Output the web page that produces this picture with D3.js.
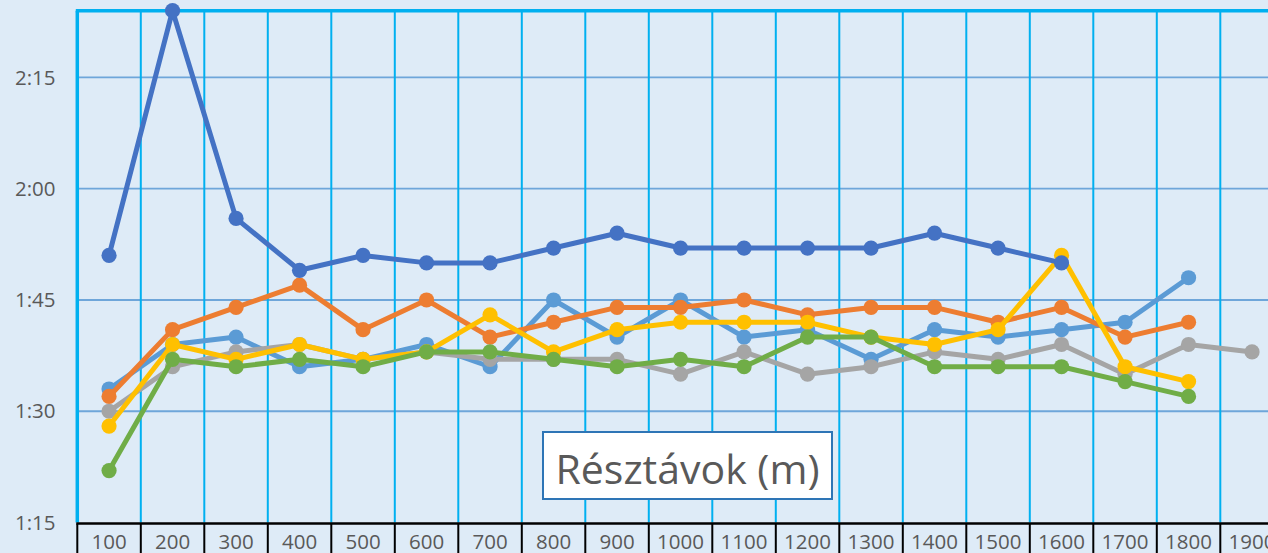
<!DOCTYPE html>
<html>
<head>
<meta charset="utf-8">
<script src="https://cdn.jsdelivr.net/npm/d3@7"></script>
<style>
html,body{margin:0;padding:0;background:#deebf7;overflow:hidden;}
svg{display:block;}
</style>
</head>
<body>
<svg id="chart" width="1268" height="553"></svg>
<script>
// categories (split distances, m)
const categories = ["100","200","300","400","500","600","700","800","900","1000","1100","1200","1300","1400","1500","1600","1700","1800","1900"];
// y tick values (seconds) and their labels
const yTicks = [75, 90, 105, 120, 135];
const yTickLabels = ["1:15", "1:30", "1:45", "2:00", "2:15"];
// series values in seconds (null = no value)
const seriesLightBlue = [93, 99, 100, 96, 97, 99, 96, 105, 100, 105, 100, 101, 97, 101, 100, 101, 102, 108, null];
const seriesOrange    = [92, 101, 104, 107, 101, 105, 100, 102, 104, 104, 105, 103, 104, 104, 102, 104, 100, 102, null];
const seriesGray      = [90, 96, 98, 99, 97, 98, 97, 97, 97, 95, 98, 95, 96, 98, 97, 99, 95, 99, 98];
const seriesYellow    = [88, 99, 97, 99, 97, 98, 103, 98, 101, 102, 102, 102, 100, 99, 101, 111, 96, 94, null];
const seriesDarkBlue  = [111, 144, 116, 109, 111, 110, 110, 112, 114, 112, 112, 112, 112, 114, 112, 110, null, null, null];
const seriesGreen     = [82, 97, 96, 97, 96, 98, 98, 97, 96, 97, 96, 100, 100, 96, 96, 96, 94, 92, null];
const seriesColors = ["#5b9bd5", "#ed7d31", "#a5a5a5", "#ffc000", "#4472c4", "#70ad47"];
const axisTitle = "Résztávok (m)";

const allSeries = [seriesLightBlue, seriesOrange, seriesGray, seriesYellow, seriesDarkBlue, seriesGreen];

const svg = d3.select("#chart");
const mLeft = 77.3, band = 63.5, mTop = 10.7, mBottom = 522.5;

const x = d3.scaleBand().domain(categories).range([mLeft, mLeft + band * categories.length]).padding(0);
const y = d3.scaleLinear().domain([75, 144]).range([mBottom, mTop]);

// horizontal gridlines
svg.append("g").selectAll("line").data(yTicks.slice(1)).join("line")
  .attr("x1", mLeft).attr("x2", 1268)
  .attr("y1", d => y(d)).attr("y2", d => y(d))
  .attr("stroke", "#5b9bd5").attr("stroke-width", 1.8).attr("opacity", 0.85);

// vertical gridlines at category boundaries
svg.append("g").selectAll("line").data(categories.slice(1)).join("line")
  .attr("x1", d => x(d)).attr("x2", d => x(d))
  .attr("y1", mTop).attr("y2", mBottom)
  .attr("stroke", "#00b0f0").attr("stroke-width", 2);

// top border and left axis
svg.append("line").attr("x1", mLeft - 1.5).attr("x2", 1268).attr("y1", mTop).attr("y2", mTop)
  .attr("stroke", "#00b0f0").attr("stroke-width", 3.5);
svg.append("line").attr("x1", mLeft).attr("x2", mLeft).attr("y1", mTop).attr("y2", mBottom)
  .attr("stroke", "#00b0f0").attr("stroke-width", 3.5);

// bottom axis with label table
svg.append("line").attr("x1", mLeft - 1).attr("x2", 1268).attr("y1", mBottom + 1).attr("y2", mBottom + 1)
  .attr("stroke", "#000").attr("stroke-width", 2.5);
svg.append("g").selectAll("line").data(categories).join("line")
  .attr("x1", d => x(d)).attr("x2", d => x(d))
  .attr("y1", mBottom + 1).attr("y2", 553)
  .attr("stroke", "#000").attr("stroke-width", 2);

const xAxis = d3.axisBottom(x).tickSize(0).tickPadding(0);
const gx = svg.append("g").attr("transform", `translate(0,${mBottom})`).call(xAxis);
gx.select(".domain").remove();
gx.selectAll("text")
  .attr("font-family", "'Open Sans', sans-serif").attr("font-size", 20.5)
  .attr("fill", "#595959").attr("dy", null).attr("y", 26);

// y axis labels
const yAxis = d3.axisLeft(y).tickValues(yTicks).tickFormat((d, i) => yTickLabels[i]).tickSize(0).tickPadding(0);
const gy = svg.append("g").attr("transform", `translate(55.5,0)`).call(yAxis);
gy.select(".domain").remove();
gy.selectAll("text")
  .attr("font-family", "'Open Sans', sans-serif").attr("font-size", 20.5)
  .attr("fill", "#595959");

// series
const line = d3.line()
  .defined(d => d.v !== null)
  .x(d => x(d.c) + x.bandwidth() / 2)
  .y(d => y(d.v));

allSeries.forEach((vals, i) => {
  const pts = vals.map((v, j) => ({c: categories[j], v}));
  const g = svg.append("g");
  g.append("path").datum(pts).attr("d", line)
    .attr("fill", "none").attr("stroke", seriesColors[i]).attr("stroke-width", 5)
    .attr("stroke-linejoin", "round");
  g.selectAll("circle").data(pts.filter(d => d.v !== null)).join("circle")
    .attr("cx", d => x(d.c) + x.bandwidth() / 2).attr("cy", d => y(d.v))
    .attr("r", 7.6).attr("fill", seriesColors[i]);
});

// axis title box
const tg = svg.append("g");
tg.append("rect").attr("x", 543).attr("y", 432).attr("width", 289).attr("height", 67)
  .attr("fill", "#fff").attr("stroke", "#2e75b6").attr("stroke-width", 2);
tg.append("text").attr("x", 687.5).attr("y", 484).attr("text-anchor", "middle")
  .attr("font-family", "'Open Sans', sans-serif").attr("font-size", 41)
  .attr("fill", "#595959").text(axisTitle);
</script>
</body>
</html>
